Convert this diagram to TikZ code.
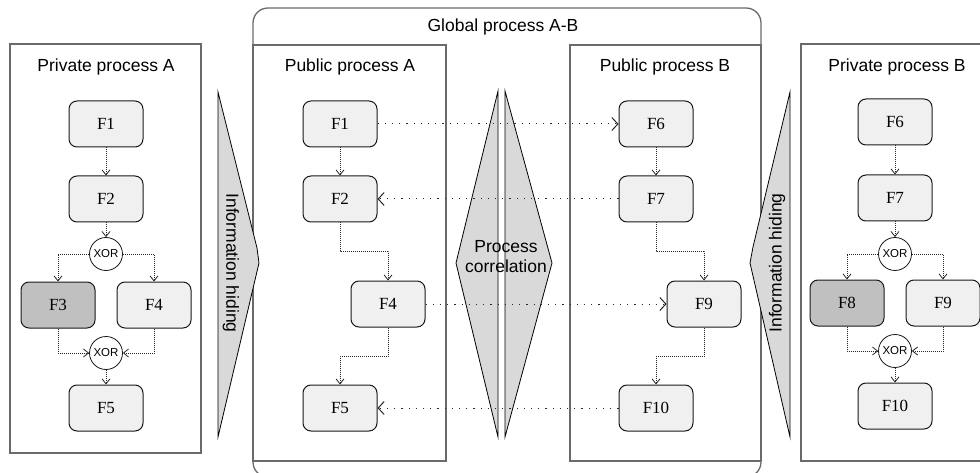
\documentclass[tikz,border=0pt]{standalone}
\usepackage{fontspec}
\setmainfont{Liberation Serif}
\setsansfont{Liberation Sans}
\usetikzlibrary{arrows.meta,calc}

\definecolor{framegray}{HTML}{6A6A6A}
\definecolor{taskfill}{HTML}{F0F0F0}
\definecolor{taskdark}{HTML}{C0C0C0}
\definecolor{wedgefill}{HTML}{D9D9D9}

\begin{document}
\begin{tikzpicture}[x=1pt,y=-1pt,
  frame/.style={draw=framegray,line width=1.3pt},
  task/.style={draw=black!90,fill=taskfill,rounded corners=8pt,minimum width=74pt,
    minimum height=46pt,inner sep=0pt,line width=1pt,
    font=\rmfamily\fontsize{17}{20}\selectfont},
  darktask/.style={task,fill=taskdark},
  gate/.style={circle,draw=black!90,fill=white,minimum size=33pt,inner sep=0pt,
    line width=0.8pt,font=\sffamily\fontsize{11.5}{12}\selectfont},
  flow/.style={draw=black!85,dash pattern=on 1pt off 1pt,line width=0.8pt,
    -{Straight Barb[length=5pt,width=8pt,line width=0.8pt]}},
  message/.style={draw=black!85,dash pattern=on 1.2pt off 6pt,line width=1pt,
    -{Straight Barb[length=6pt,width=13pt,line width=1pt]}},
  title/.style={font=\sffamily\fontsize{17.5}{20}\selectfont},
  wedge/.style={draw=black,fill=wedgefill,line width=0.8pt}
]
\useasboundingbox (0,0) rectangle (980,473);

% frames
\draw[frame,rounded corners=15pt] (253,8) rectangle (761,477);
\draw[frame] (10,44) rectangle (201,453);
\draw[frame] (253,45) rectangle (446,461);
\draw[frame] (570,45) rectangle (761,461);
\draw[frame] (801,44) rectangle (990,461);

\node[title] (tglobal) at (503,27) {Global process A-B};
\node[title] (tprivA) at (106,67) {Private process A};
\node[title] (tpubA) at (350,67) {Public process A};
\node[title] (tpubB) at (665,67) {Public process B};
\node[title] (tprivB) at (897,67) {Private process B};

% wedges
\draw[wedge] (218,92) -- (257,248) -- (259,263) -- (218,437) -- cycle;
\draw[wedge] (498,91) -- (456,263) -- (498,437) -- cycle;
\draw[wedge] (505,91) -- (552,263) -- (505,437) -- cycle;
\draw[wedge] (790,92) -- (753,247) -- (750,263) -- (790,437) -- cycle;

\node[title,rotate=-90] (hideA) at (231,263) {Information hiding};
\node[title,rotate=90] (hideB) at (777,263) {Information hiding};
\node[title,align=center] (corr) at (506,257) {Process\\correlation};

% private process A
\node[task] (pa1) at (106,124) {F1};
\node[task] (pa2) at (106,199) {F2};
\node[gate] (pax1) at (106,254) {XOR};
\node[darktask] (pa3) at (58,305) {F3};
\node[task] (pa4) at (154,305) {F4};
\node[gate] (pax2) at (106,353) {XOR};
\node[task] (pa5) at (106,408) {F5};

% public process A
\node[task] (ua1) at (340,124) {F1};
\node[task] (ua2) at (340,199) {F2};
\node[task] (ua4) at (388,304) {F4};
\node[task] (ua5) at (340,408) {F5};

% public process B
\node[task] (ub6) at (656,124) {F6};
\node[task] (ub7) at (656,199) {F7};
\node[task] (ub9) at (704,304) {F9};
\node[task] (ub10) at (656,408) {F10};

% private process B
\node[task] (pb6) at (895,122) {F6};
\node[task] (pb7) at (895,198) {F7};
\node[gate] (pbx1) at (895,254) {XOR};
\node[darktask] (pb8) at (847,303) {F8};
\node[task] (pb9) at (943,303) {F9};
\node[gate] (pbx2) at (895,351) {XOR};
\node[task] (pb10) at (895,406) {F10};

% flows in private process A
\draw[flow] (pa1) -- (pa2);
\draw[flow] (pa2) -- (pax1);
\draw[flow] (pax1.west) -| (pa3.north);
\draw[flow] (pax1.east) -| (pa4.north);
\draw[flow] (pa3.south) |- (pax2.west);
\draw[flow] (pa4.south) |- (pax2.east);
\draw[flow] (pax2) -- (pa5);

% flows in public process A
\draw[flow] (ua1) -- (ua2);
\draw[flow] (ua2.south) |- ($(ua2.south)!.5!(ua4.north)$) -| (ua4.north);
\draw[flow] (ua4.south) |- ($(ua4.south)!.5!(ua5.north)$) -| (ua5.north);

% flows in public process B
\draw[flow] (ub6) -- (ub7);
\draw[flow] (ub7.south) |- ($(ub7.south)!.5!(ub9.north)$) -| (ub9.north);
\draw[flow] (ub9.south) |- ($(ub9.south)!.5!(ub10.north)$) -| (ub10.north);

% flows in private process B
\draw[flow] (pb6) -- (pb7);
\draw[flow] (pb7) -- (pbx1);
\draw[flow] (pbx1.west) -| (pb8.north);
\draw[flow] (pbx1.east) -| (pb9.north);
\draw[flow] (pb8.south) |- (pbx2.west);
\draw[flow] (pb9.south) |- (pbx2.east);
\draw[flow] (pbx2) -- (pb10);

% messages between the public processes
\draw[message] (ua1.east) -- (ub6.west);
\draw[message] (ub7.west) -- (ua2.east);
\draw[message] (ua4.east) -- (ub9.west);
\draw[message] (ub10.west) -- (ua5.east);
\end{tikzpicture}
\end{document}
